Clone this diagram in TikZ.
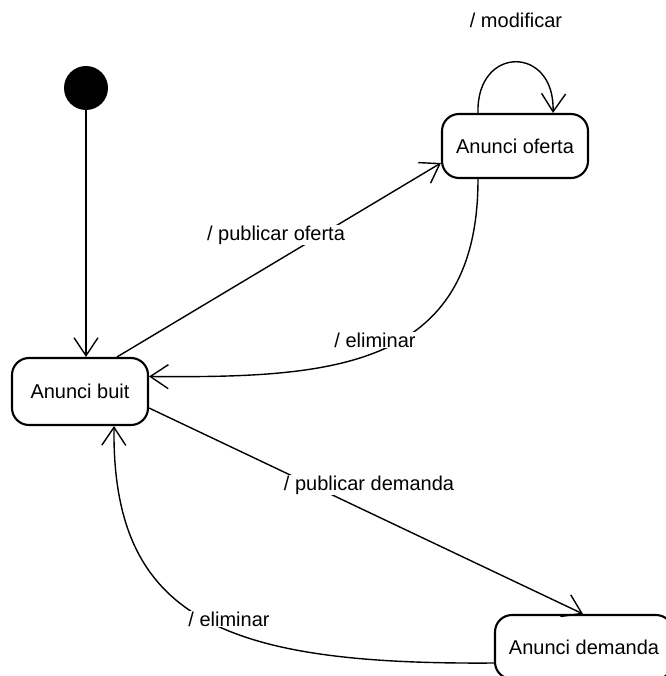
\documentclass[tikz,border=0pt]{standalone}
\usepackage{fontspec}
\setmainfont{Liberation Sans}
\usetikzlibrary{arrows.meta}
\begin{document}
\begin{tikzpicture}[x=1pt,y=-1pt,
  font=\fontsize{20}{24}\selectfont,
  statebox/.style={draw,line width=2.1pt,rounded corners=17pt,inner sep=0pt},
  trans/.style={line width=1.4pt,-{Straight Barb[length=18pt,width=24pt,line width=1.4pt]}},
  lbl/.style={fill=white,inner sep=1pt}]
  \useasboundingbox (0,0) rectangle (665,676);

  % states
  \node[circle,fill=black,minimum size=44pt,inner sep=0pt] (init) at (86,88) {};
  \node[statebox,minimum width=136pt,minimum height=67pt] (buit) at (80,391.5) {Anunci buit};
  \node[statebox,minimum width=146pt,minimum height=64pt] (oferta) at (515,146) {Anunci oferta};
  \node[statebox,minimum width=178pt,minimum height=64pt] (demanda) at (584,647) {Anunci demanda};

  % transitions
  \draw[trans] (init) -- (init |- buit.north);
  \draw[trans] ([xshift=37pt]buit.north) -- ([yshift=-17pt]oferta.west);
  \draw[trans] ([xshift=-37pt]oferta.south) .. controls (478,370) and (330,378) .. ([yshift=15pt]buit.east);
  \draw[trans] ([xshift=-37pt]oferta.north) .. controls (476,45) and (555,45) .. ([xshift=38pt]oferta.north);
  \draw[trans] ([yshift=-16.5pt]buit.east) -- ([xshift=-1pt]demanda.north);
  \draw[trans] ([yshift=-16pt]demanda.west) .. controls (225,665) and (112,620) .. ([xshift=34pt]buit.south);

  % transition labels
  \node[lbl] (lpo) at (276,235) {/ publicar oferta};
  \node[lbl] (le1) at (375,340) {/ eliminar};
  \node[lbl] (lmod) at (516,20) {/ modificar};
  \node[lbl] (lpd) at (369,485) {/ publicar demanda};
  \node[lbl] (le2) at (229,619) {/ eliminar};
\end{tikzpicture}
\end{document}
